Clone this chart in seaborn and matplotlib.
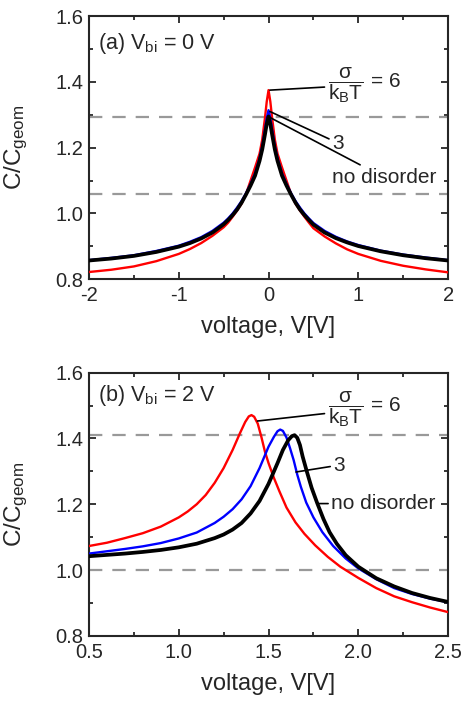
import pandas as pd
import matplotlib.pyplot as plt
import seaborn as sns
from matplotlib.ticker import MultipleLocator

# panel (a): V_bi = 0 V  (same voltage grid for all three curves)
va = [-2, -1.75, -1.5, -1.25, -1, -0.875, -0.75, -0.625, -0.5, -0.45, -0.4, -0.35, -0.3, -0.25,
      -0.2, -0.15, -0.1, -0.07, -0.04, -0.02, 0,
      0.02, 0.04, 0.07, 0.1, 0.15, 0.2, 0.25, 0.3, 0.35, 0.4, 0.45, 0.5, 0.625, 0.75, 0.875,
      1, 1.25, 1.5, 1.75, 2]
ca_black = [0.857, 0.863, 0.871, 0.883, 0.899, 0.91, 0.924, 0.942, 0.967, 0.98, 0.995, 1.012, 1.033,
            1.058, 1.085, 1.115, 1.16, 1.195, 1.24, 1.272, 1.295,
            1.272, 1.24, 1.195, 1.16, 1.115, 1.085, 1.058, 1.033, 1.012, 0.995, 0.98, 0.966, 0.942,
            0.925, 0.912, 0.901, 0.885, 0.873, 0.864, 0.857]
ca_blue = [0.858, 0.865, 0.873, 0.886, 0.902, 0.914, 0.928, 0.947, 0.972, 0.985, 1.0, 1.018, 1.038,
           1.062, 1.09, 1.122, 1.168, 1.205, 1.255, 1.29, 1.314,
           1.29, 1.255, 1.205, 1.168, 1.122, 1.09, 1.062, 1.038, 1.018, 1.0, 0.985, 0.971, 0.947,
           0.929, 0.915, 0.904, 0.887, 0.875, 0.866, 0.858]
ca_red = [0.822, 0.829, 0.839, 0.855, 0.877, 0.892, 0.91, 0.932, 0.958, 0.972, 0.99, 1.009, 1.03,
          1.06, 1.1, 1.14, 1.182, 1.225, 1.29, 1.34, 1.375,
          1.34, 1.29, 1.225, 1.182, 1.14, 1.1, 1.06, 1.03, 1.009, 0.99, 0.972, 0.955, 0.93,
          0.909, 0.891, 0.877, 0.856, 0.841, 0.83, 0.821]
dash_a = [1.292, 1.058]

# panel (b): V_bi = 2 V
vb_black = [0.5, 0.6, 0.7, 0.8, 0.9, 1.0, 1.1, 1.2, 1.25, 1.3, 1.35, 1.4, 1.45, 1.5, 1.55, 1.58, 1.61,
            1.63, 1.645, 1.66, 1.675, 1.69, 1.713, 1.74, 1.77, 1.806, 1.84, 1.88, 1.93, 2.0, 2.1, 2.2,
            2.3, 2.4, 2.5]
cb_black = [1.042, 1.046, 1.05, 1.055, 1.061, 1.069, 1.08, 1.097, 1.108, 1.123, 1.143, 1.172, 1.21, 1.262,
            1.325, 1.365, 1.395, 1.407, 1.41, 1.402, 1.38, 1.345, 1.3, 1.25, 1.205, 1.155, 1.115, 1.08,
            1.045, 1.01, 0.975, 0.95, 0.93, 0.915, 0.903]
vb_blue = [0.5, 0.6, 0.7, 0.8, 0.9, 1.0, 1.1, 1.2, 1.25, 1.3, 1.35, 1.4, 1.45, 1.5, 1.53, 1.55, 1.565,
           1.58, 1.6, 1.62, 1.64, 1.66, 1.68, 1.71, 1.75, 1.8, 1.86, 1.93, 2.0, 2.1, 2.2, 2.3, 2.4, 2.5]
cb_blue = [1.05, 1.057, 1.064, 1.072, 1.082, 1.096, 1.114, 1.143, 1.162, 1.185, 1.215, 1.255, 1.31, 1.375,
           1.405, 1.422, 1.427, 1.423, 1.403, 1.37, 1.334, 1.29, 1.253, 1.205, 1.16, 1.115, 1.073, 1.035,
           1.005, 0.972, 0.945, 0.927, 0.913, 0.902]
vb_red = [0.5, 0.6, 0.7, 0.8, 0.9, 1.0, 1.05, 1.1, 1.15, 1.2, 1.25, 1.3, 1.34, 1.37, 1.39, 1.405, 1.42,
          1.44, 1.46, 1.48, 1.5, 1.53, 1.56, 1.6, 1.65, 1.7, 1.76, 1.83, 1.9, 2.0, 2.1, 2.2, 2.3, 2.4, 2.5]
cb_red = [1.073, 1.083, 1.097, 1.112, 1.132, 1.16, 1.178, 1.2, 1.228, 1.265, 1.31, 1.365, 1.415, 1.45,
          1.467, 1.471, 1.466, 1.445, 1.405, 1.36, 1.325, 1.28, 1.24, 1.19, 1.145, 1.11, 1.075, 1.04,
          1.01, 0.976, 0.945, 0.92, 0.902, 0.886, 0.872]
dash_b = [1.409, 1.0]

sns.set_style("ticks")
plt.rcParams['font.family'] = ['Liberation Sans', 'DejaVu Sans']
plt.rcParams['mathtext.fontset'] = 'custom'
plt.rcParams['mathtext.rm'] = 'Liberation Sans'
plt.rcParams['mathtext.it'] = 'Liberation Sans'
plt.rcParams['mathtext.default'] = 'regular'

fig, axes = plt.subplots(2, 1, figsize=(4.61, 7.01), dpi=100)
fig.subplots_adjust(left=0.193, right=0.972, top=0.977, bottom=0.093, hspace=0.355)


def draw(ax, curves, dashes):
    for y in dashes:
        ax.axhline(y, color='#999999', lw=1.6, dashes=(6, 4.5), zorder=1)
    for x, y, col, lw in curves:
        df = pd.DataFrame({'v': x, 'c': y})
        sns.lineplot(data=df, x='v', y='c', ax=ax, color=col, lw=lw, sort=False, zorder=3)
    ax.set_ylim(0.8, 1.6)
    ax.yaxis.set_major_locator(MultipleLocator(0.2))
    ax.yaxis.set_minor_locator(MultipleLocator(0.1))
    ax.yaxis.set_major_formatter(plt.FormatStrFormatter('%.1f'))
    ax.set_xlabel('voltage, V[V]', fontsize=17, labelpad=8)
    ax.set_ylabel(r'C/C$_{\rm geom}$', fontsize=17.5)
    ax.yaxis.set_label_coords(-0.165, 0.5)
    ax.tick_params(which='both', direction='in', top=True, right=True, width=1.3,
                   labelsize=14.5)
    ax.tick_params(axis='x', pad=5)
    ax.tick_params(axis='y', pad=4)
    ax.tick_params(which='major', length=5)
    ax.tick_params(which='minor', length=3)
    for s in ax.spines.values():
        s.set_linewidth(1.5)


lp = dict(arrowstyle='-', color='black', lw=1.2, shrinkA=0, shrinkB=0)
frac = r'$\dfrac{\sigma}{k_{B}T}$ = 6'

ax = axes[0]
draw(ax, [(va, ca_red, 'red', 1.7), (va, ca_blue, 'blue', 1.7),
          (va, ca_black, 'black', 2.7)], dash_a)
ax.set_xlim(-2, 2)
ax.xaxis.set_major_locator(MultipleLocator(1))
ax.xaxis.set_minor_locator(MultipleLocator(0.5))
ax.xaxis.set_major_formatter(plt.FormatStrFormatter('%g'))
ax.text(-1.9, 1.517, r'(a) V$_{\rm bi}$ = 0 V', fontsize=15.5, va='center')
ax.annotate(frac, xy=(0.015, 1.375), xytext=(0.66, 1.391),
            fontsize=15, va='center', ha='left', arrowprops=lp)
ax.annotate('3', xy=(0.015, 1.31), xytext=(0.71, 1.214),
            fontsize=15, va='center', ha='left', arrowprops=lp)
ax.annotate('no disorder', xy=(0.015, 1.292), xytext=(0.71, 1.109),
            fontsize=15, va='center', ha='left', arrowprops=lp)

ax = axes[1]
draw(ax, [(vb_red, cb_red, 'red', 1.7), (vb_blue, cb_blue, 'blue', 1.7),
          (vb_black, cb_black, 'black', 2.7)], dash_b)
ax.set_xlim(0.5, 2.5)
ax.xaxis.set_major_locator(MultipleLocator(0.5))
ax.xaxis.set_minor_locator(MultipleLocator(0.25))
ax.xaxis.set_major_formatter(plt.FormatStrFormatter('%.1f'))
ax.text(0.55, 1.531, r'(b) V$_{\rm bi}$ = 2 V', fontsize=15.5, va='center')
ax.annotate(frac, xy=(1.438, 1.453), xytext=(1.83, 1.489),
            fontsize=15, va='center', ha='left', arrowprops=lp)
ax.annotate('3', xy=(1.653, 1.298), xytext=(1.862, 1.319),
            fontsize=15, va='center', ha='left', arrowprops=lp)
ax.annotate('no disorder', xy=(1.778, 1.202), xytext=(1.85, 1.202),
            fontsize=15, va='center', ha='left', arrowprops=lp)

plt.savefig('out.png', dpi=100)
plt.close()
